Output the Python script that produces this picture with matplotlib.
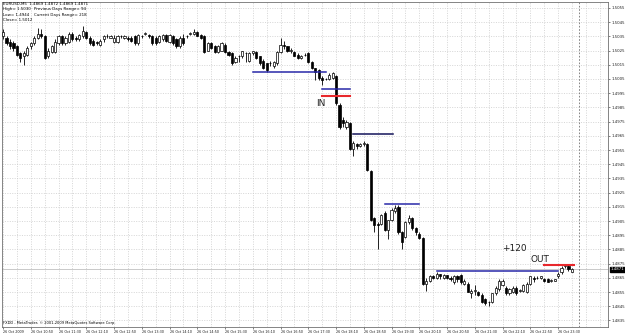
import matplotlib.pyplot as plt
import matplotlib.transforms as mtransforms
import numpy as np

# EURUSD M5 bars, 26 Oct 2009 from 10:10 to 23:50
opens = [1.5035, 1.5034, 1.5031, 1.5030, 1.5028, 1.5023, 1.5021, 1.5022, 1.5028, 1.5030,
         1.5034, 1.5037, 1.5035, 1.5021, 1.5024, 1.5024, 1.5030, 1.5035, 1.5030, 1.5031,
         1.5037, 1.5034, 1.5033, 1.5035, 1.5038, 1.5034, 1.5032, 1.5031, 1.5029, 1.5033,
         1.5035, 1.5034, 1.5031, 1.5031, 1.5035, 1.5034, 1.5034, 1.5034, 1.5035, 1.5030,
         1.5035, 1.5037, 1.5036, 1.5035, 1.5034, 1.5031, 1.5033, 1.5036, 1.5031, 1.5035,
         1.5033, 1.5028, 1.5034, 1.5035, 1.5037, 1.5037, 1.5038, 1.5036, 1.5035, 1.5025,
         1.5030, 1.5028, 1.5024, 1.5025, 1.5029, 1.5024, 1.5023, 1.5017, 1.5021, 1.5021,
         1.5023, 1.5018, 1.5023, 1.5024, 1.5021, 1.5018, 1.5016, 1.5016, 1.5014, 1.5016,
         1.5024, 1.5029, 1.5028, 1.5025, 1.5024, 1.5022, 1.5020, 1.5022, 1.5023, 1.5017,
         1.5013, 1.5011, 1.5006, 1.5005, 1.5005, 1.5006, 1.5007, 1.4987, 1.4976, 1.4971,
         1.4974, 1.4956, 1.4959, 1.4958, 1.4959, 1.4959, 1.4940, 1.4907, 1.4903, 1.4903,
         1.4911, 1.4899, 1.4906, 1.4912, 1.4915, 1.4897, 1.4894, 1.4904, 1.4907, 1.4900,
         1.4896, 1.4893, 1.4861, 1.4863, 1.4866, 1.4865, 1.4868, 1.4865, 1.4867, 1.4865,
         1.4862, 1.4866, 1.4867, 1.4861, 1.4861, 1.4854, 1.4856, 1.4855, 1.4853, 1.4850,
         1.4848, 1.4848, 1.4854, 1.4857, 1.4860, 1.4858, 1.4854, 1.4855, 1.4858, 1.4856,
         1.4856, 1.4855, 1.4861, 1.4865, 1.4865, 1.4865, 1.4864, 1.4864, 1.4863, 1.4863,
         1.4866, 1.4869, 1.4873, 1.4873, 1.4869]
highs = [1.5040, 1.5035, 1.5033, 1.5032, 1.5029, 1.5024, 1.5025, 1.5028, 1.5031, 1.5035,
         1.5041, 1.5040, 1.5036, 1.5027, 1.5029, 1.5033, 1.5036, 1.5036, 1.5035, 1.5038,
         1.5038, 1.5035, 1.5037, 1.5042, 1.5039, 1.5035, 1.5033, 1.5032, 1.5033, 1.5036,
         1.5037, 1.5036, 1.5036, 1.5036, 1.5036, 1.5036, 1.5035, 1.5035, 1.5036, 1.5037,
         1.5036, 1.5038, 1.5037, 1.5036, 1.5035, 1.5036, 1.5037, 1.5037, 1.5037, 1.5036,
         1.5034, 1.5035, 1.5037, 1.5036, 1.5038, 1.5040, 1.5039, 1.5037, 1.5036, 1.5031,
         1.5031, 1.5029, 1.5029, 1.5031, 1.5030, 1.5025, 1.5024, 1.5021, 1.5022, 1.5025,
         1.5024, 1.5024, 1.5025, 1.5025, 1.5021, 1.5019, 1.5016, 1.5018, 1.5018, 1.5025,
         1.5034, 1.5032, 1.5028, 1.5027, 1.5025, 1.5023, 1.5022, 1.5023, 1.5024, 1.5018,
         1.5013, 1.5012, 1.5007, 1.5006, 1.5009, 1.5010, 1.5008, 1.4988, 1.4978, 1.4976,
         1.4975, 1.4961, 1.4960, 1.4960, 1.4961, 1.4960, 1.4941, 1.4908, 1.4904, 1.4910,
         1.4912, 1.4906, 1.4914, 1.4916, 1.4916, 1.4898, 1.4905, 1.4909, 1.4908, 1.4901,
         1.4897, 1.4894, 1.4865, 1.4867, 1.4867, 1.4869, 1.4868, 1.4868, 1.4867, 1.4866,
         1.4867, 1.4867, 1.4868, 1.4864, 1.4862, 1.4857, 1.4860, 1.4856, 1.4854, 1.4851,
         1.4849, 1.4854, 1.4859, 1.4864, 1.4864, 1.4859, 1.4858, 1.4859, 1.4859, 1.4857,
         1.4861, 1.4862, 1.4866, 1.4866, 1.4866, 1.4866, 1.4865, 1.4865, 1.4864, 1.4864,
         1.4869, 1.4873, 1.4875, 1.4874, 1.4872]
lows = [1.5033, 1.5029, 1.5026, 1.5025, 1.5021, 1.5017, 1.5015, 1.5021, 1.5026, 1.5029,
        1.5033, 1.5034, 1.5019, 1.5020, 1.5023, 1.5023, 1.5029, 1.5029, 1.5029, 1.5030,
        1.5032, 1.5032, 1.5032, 1.5034, 1.5033, 1.5029, 1.5028, 1.5029, 1.5028, 1.5031,
        1.5034, 1.5034, 1.5030, 1.5030, 1.5034, 1.5033, 1.5032, 1.5031, 1.5029, 1.5029,
        1.5034, 1.5036, 1.5034, 1.5029, 1.5029, 1.5030, 1.5032, 1.5031, 1.5030, 1.5029,
        1.5027, 1.5027, 1.5029, 1.5034, 1.5036, 1.5036, 1.5035, 1.5033, 1.5023, 1.5025,
        1.5026, 1.5023, 1.5023, 1.5025, 1.5023, 1.5021, 1.5015, 1.5016, 1.5017, 1.5020,
        1.5017, 1.5017, 1.5022, 1.5019, 1.5015, 1.5012, 1.5010, 1.5014, 1.5013, 1.5015,
        1.5023, 1.5026, 1.5024, 1.5023, 1.5021, 1.5019, 1.5019, 1.5021, 1.5016, 1.5012,
        1.5004, 1.5004, 1.5001, 1.5004, 1.5004, 1.5005, 1.4987, 1.4970, 1.4971, 1.4970,
        1.4955, 1.4951, 1.4956, 1.4957, 1.4958, 1.4940, 1.4905, 1.4897, 1.4885, 1.4902,
        1.4898, 1.4892, 1.4905, 1.4911, 1.4896, 1.4885, 1.4893, 1.4903, 1.4899, 1.4895,
        1.4892, 1.4860, 1.4856, 1.4862, 1.4864, 1.4864, 1.4864, 1.4864, 1.4864, 1.4863,
        1.4861, 1.4862, 1.4861, 1.4860, 1.4855, 1.4851, 1.4853, 1.4852, 1.4847, 1.4846,
        1.4845, 1.4847, 1.4853, 1.4856, 1.4859, 1.4853, 1.4853, 1.4854, 1.4853, 1.4855,
        1.4855, 1.4854, 1.4860, 1.4862, 1.4864, 1.4864, 1.4862, 1.4862, 1.4862, 1.4863,
        1.4865, 1.4868, 1.4872, 1.4870, 1.4869]
closes = [1.5038, 1.5030, 1.5028, 1.5027, 1.5022, 1.5020, 1.5023, 1.5027, 1.5030, 1.5034,
          1.5037, 1.5035, 1.5020, 1.5025, 1.5028, 1.5031, 1.5035, 1.5030, 1.5034, 1.5037,
          1.5033, 1.5033, 1.5036, 1.5039, 1.5034, 1.5030, 1.5029, 1.5030, 1.5032, 1.5035,
          1.5035, 1.5035, 1.5034, 1.5035, 1.5035, 1.5035, 1.5033, 1.5032, 1.5030, 1.5036,
          1.5035, 1.5037, 1.5035, 1.5030, 1.5030, 1.5035, 1.5036, 1.5032, 1.5036, 1.5030,
          1.5028, 1.5034, 1.5030, 1.5035, 1.5037, 1.5038, 1.5035, 1.5034, 1.5024, 1.5030,
          1.5027, 1.5024, 1.5028, 1.5030, 1.5024, 1.5022, 1.5016, 1.5020, 1.5021, 1.5025,
          1.5023, 1.5023, 1.5025, 1.5020, 1.5016, 1.5013, 1.5011, 1.5016, 1.5017, 1.5024,
          1.5029, 1.5028, 1.5025, 1.5025, 1.5021, 1.5020, 1.5021, 1.5022, 1.5017, 1.5013,
          1.5010, 1.5006, 1.5004, 1.5005, 1.5008, 1.5009, 1.4988, 1.4971, 1.4974, 1.4975,
          1.4956, 1.4960, 1.4958, 1.4959, 1.4960, 1.4941, 1.4906, 1.4902, 1.4902, 1.4909,
          1.4899, 1.4906, 1.4913, 1.4914, 1.4897, 1.4890, 1.4904, 1.4907, 1.4900, 1.4897,
          1.4893, 1.4861, 1.4863, 1.4866, 1.4865, 1.4868, 1.4866, 1.4867, 1.4865, 1.4864,
          1.4866, 1.4864, 1.4862, 1.4863, 1.4855, 1.4856, 1.4856, 1.4853, 1.4848, 1.4847,
          1.4848, 1.4854, 1.4858, 1.4863, 1.4863, 1.4854, 1.4857, 1.4858, 1.4854, 1.4856,
          1.4860, 1.4861, 1.4866, 1.4864, 1.4865, 1.4866, 1.4863, 1.4862, 1.4863, 1.4864,
          1.4868, 1.4872, 1.4874, 1.4871, 1.4871]

time_labels = ["26 Oct 2009", "26 Oct 10:50", "26 Oct 11:30", "26 Oct 12:10", "26 Oct 12:50",
               "26 Oct 13:30", "26 Oct 14:10", "26 Oct 14:50", "26 Oct 15:30", "26 Oct 16:10",
               "26 Oct 16:50", "26 Oct 17:30", "26 Oct 18:10", "26 Oct 18:50", "26 Oct 19:30",
               "26 Oct 20:10", "26 Oct 20:50", "26 Oct 21:30", "26 Oct 22:10", "26 Oct 22:50",
               "26 Oct 23:30"]
bars_per_label = 8
separator_bar = 166   # 27 Oct 00:00
bid = 1.4871

# hand drawn levels: price, first bar, last bar
blue_levels = [(1.5010, 72, 93), (1.4998, 92, 100), (1.4917, 110, 120), (1.4870, 125, 160)]
dark_levels = [(1.4966, 101, 112.5)]
red_levels = [(1.4993, 92, 100), (1.4874, 156, 164.5)]

header = ["EURUSD,M5  1.4869 1.4872 1.4869 1.4871",
          "High= 1.5030", "Low= 1.4944", "Close= 1.5012"]
header_right = ["Previous Days Range= 94", "Current Days Range= 218"]

W, H = 625, 335
fig = plt.figure(figsize=(W / 100, H / 100), dpi=100)
fig.patch.set_facecolor('white')
ax = fig.add_axes([2 / W, 8 / H, 606 / W, 325 / H])

x = np.arange(len(opens))
o = np.array(opens)
c = np.array(closes)
up = c >= o

# wicks then bodies
ax.vlines(x, lows, highs, color='black', lw=0.6, zorder=3)
body_lo = np.minimum(o, c)
body_h = np.maximum(np.abs(c - o), 0.00002)
ax.bar(x[up], body_h[up], bottom=body_lo[up], width=0.62, color='white',
       edgecolor='black', linewidth=0.5, zorder=4)
ax.bar(x[~up], body_h[~up], bottom=body_lo[~up], width=0.62, color='black',
       edgecolor='black', linewidth=0.5, zorder=4)

# level lines
for p, a, b in blue_levels:
    ax.plot([a, b], [p, p], color='#2828a8', lw=1.1, zorder=5)
for p, a, b in dark_levels:
    ax.plot([a, b], [p, p], color='#14145a', lw=1.1, zorder=5)
for p, a, b in red_levels:
    ax.plot([a, b], [p, p], color='#e8282c', lw=1.5, zorder=5)

ax.text(90.3, 1.49877, "IN", fontsize=6.5, color='#202020', va='center', ha='left')
ax.text(144.0, 1.48860, "+120", fontsize=6.5, color='#202020', va='center', ha='left')
ax.text(152.0, 1.48778, "OUT", fontsize=6.5, color='#202020', va='center', ha='left')

# bid line and period separator
ax.axhline(bid, color='#c0c0c0', lw=0.6, zorder=1)
ax.axvline(separator_bar, color='#707070', lw=0.6, ls=(0, (2, 2)), zorder=1)

ax.set_xlim(-0.3, 174.4)
ax.set_ylim(1.48304, 1.50592)

price_ticks = np.round(np.arange(1.4835, 1.50551, 0.0010), 4)
ax.yaxis.tick_right()
ax.set_yticks(price_ticks)
ax.set_yticklabels([f"{v:.4f}" for v in price_ticks], fontsize=2.8)
ax.set_xticks(np.arange(len(time_labels)) * bars_per_label)
ax.set_xticklabels(time_labels, fontsize=2.4, ha='left')
# grid lines every half label step
ax.set_xticks(np.arange(0, 175, bars_per_label // 2), minor=True)
ax.tick_params(axis='both', length=1.5, width=0.4, pad=1, colors='#202020')
ax.tick_params(axis='x', which='minor', length=0)

ax.grid(True, which='both', color='#c8c8c8', ls=(0, (1.5, 2)), lw=0.5)
ax.set_axisbelow(True)
for s in ax.spines.values():
    s.set_color('#707070')
    s.set_linewidth(0.6)

# current price box on the price scale
trans = mtransforms.blended_transform_factory(ax.transAxes, ax.transData)
ax.text(1.004, bid, f"{bid:.4f}", transform=trans, fontsize=2.8, color='white',
        va='center', ha='left', bbox=dict(boxstyle='square,pad=0.15', fc='black', ec='black'),
        zorder=6, clip_on=False)

# header and footer text
def fx(px):
    return px / W

def fy(py):
    return 1 - py / H

for k, line in enumerate(header):
    fig.text(fx(3), fy(4 + 5.3 * k), line, fontsize=2.9, va='center', ha='left')
for k, line in enumerate(header_right):
    fig.text(fx(34), fy(4 + 5.3 * (k + 1)), line, fontsize=2.9, va='center', ha='left')
fig.text(fx(3), fy(323), "FXDD - MetaTrader, \u00a9 2001-2009 MetaQuotes Software Corp.",
         fontsize=2.6, va='center', ha='left')

fig.savefig('out.png', dpi=100)
